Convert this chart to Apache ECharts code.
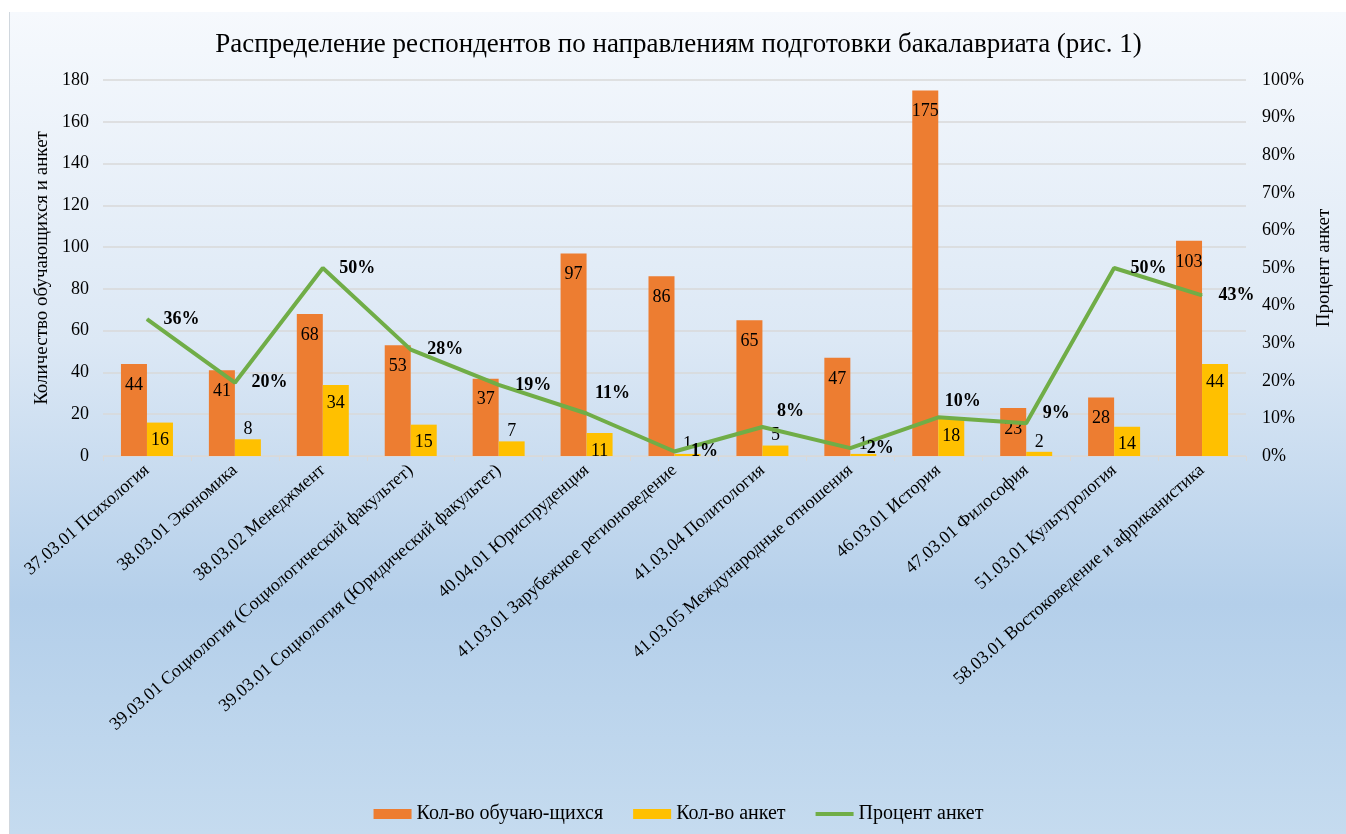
<!DOCTYPE html>
<html>
<head>
<meta charset="utf-8">
<script src="https://cdn.jsdelivr.net/npm/echarts@6/dist/echarts.min.js"></script>
<style>
html,body{margin:0;padding:0;background:#ffffff;}
#chart{position:absolute;left:9px;top:12px;width:1337px;height:822px;
background:linear-gradient(to bottom,#f6f9fd 0%,#dce8f5 40%,#b4cfea 72%,#c5dbef 100%);
border-left:1px solid #d0d7de;}
</style>
</head>
<body>
<div id="chart"></div>
<script>
var categories = [
  '37.03.01 Психология',
  '38.03.01 Экономика',
  '38.03.02 Менеджмент',
  '39.03.01 Социология (Социологический факультет)',
  '39.03.01 Социология (Юридический факультет)',
  '40.04.01 Юриспруденция',
  '41.03.01 Зарубежное регионоведение',
  '41.03.04 Политология',
  '41.03.05 Международные отношения',
  '46.03.01 История',
  '47.03.01 Философия',
  '51.03.01 Культурология',
  '58.03.01 Востоковедение и африканистика'
];
var students = [44, 41, 68, 53, 37, 97, 86, 65, 47, 175, 23, 28, 103];
var surveys = [16, 8, 34, 15, 7, 11, 1, 5, 1, 18, 2, 14, 44];
var percent = [0.364, 0.195, 0.5, 0.283, 0.189, 0.113, 0.012, 0.077, 0.021, 0.103, 0.087, 0.5, 0.427];
var leftTicks = {min: 0, max: 180, interval: 20};
var rightTicks = {min: 0, max: 1, interval: 0.1};

var FONT = '"Liberation Serif","Times New Roman",serif';
var chart = echarts.init(document.getElementById('chart'), null, {renderer: 'canvas'});

// label placement tweaks (layout only, keyed by category index)
var lineLabelShift = {5: [-8, -18], 7: [-2, -14], 9: [-10, -14], 10: [0, -8]};

var surveyData = surveys.map(function (v) {
  if (v < 10) {
    return {value: v, label: {position: 'top', distance: 1}};
  }
  return v;
});

chart.setOption({
  backgroundColor: 'transparent',
  textStyle: {fontFamily: FONT, color: '#000'},
  title: {
    text: 'Распределение респондентов по направлениям подготовки бакалавриата (рис. 1)',
    left: 'center',
    top: 14,
    textStyle: {fontFamily: FONT, fontSize: 27, fontWeight: 'normal', color: '#000'}
  },
  legend: {
    bottom: 5,
    left: 'center',
    itemGap: 30,
    itemWidth: 38,
    itemHeight: 10,
    textStyle: {fontFamily: FONT, fontSize: 20, color: '#000'},
    data: [
      {name: 'Кол-во обучаю-щихся', icon: 'rect'},
      {name: 'Кол-во анкет', icon: 'rect'},
      {name: 'Процент анкет', icon: 'path://M0,0 L40,0 L40,4 L0,4 Z'}
    ]
  },
  grid: {left: 93, right: 101, top: 68, bottom: 378, containLabel: false},
  xAxis: {
    type: 'category',
    data: categories,
    axisLine: {lineStyle: {color: '#d9d9d9', width: 1}},
    axisTick: {show: true, length: 5, lineStyle: {color: '#d9d9d9'}},
    axisLabel: {rotate: 41, fontFamily: FONT, fontSize: 18, color: '#000', interval: 0, margin: 12}
  },
  yAxis: [
    {
      type: 'value',
      min: leftTicks.min, max: leftTicks.max, interval: leftTicks.interval,
      name: 'Количество обучающихся и анкет',
      nameLocation: 'middle',
      nameRotate: 90,
      nameGap: 46,
      nameTextStyle: {fontFamily: FONT, fontSize: 19, color: '#000'},
      axisLine: {show: false},
      axisTick: {show: false},
      axisLabel: {fontFamily: FONT, fontSize: 18, color: '#000', margin: 14},
      splitLine: {lineStyle: {color: '#d9d9d9', width: 1.5}}
    },
    {
      type: 'value',
      min: rightTicks.min, max: rightTicks.max, interval: rightTicks.interval,
      name: 'Процент анкет',
      nameLocation: 'middle',
      nameRotate: 90,
      nameGap: 61,
      nameTextStyle: {fontFamily: FONT, fontSize: 19, color: '#000'},
      axisLine: {show: false},
      axisTick: {show: false},
      axisLabel: {
        fontFamily: FONT, fontSize: 18, color: '#000', margin: 16,
        formatter: function (v) { return Math.round(v * 100) + '%'; }
      },
      splitLine: {show: false}
    }
  ],
  series: [
    {
      name: 'Кол-во обучаю-щихся',
      type: 'bar',
      yAxisIndex: 0,
      data: students,
      barWidth: 26,
      barGap: '0%',
      itemStyle: {color: '#ed7d31'},
      label: {show: true, position: 'insideTop', distance: 12, fontFamily: FONT, fontSize: 18, color: '#000'}
    },
    {
      name: 'Кол-во анкет',
      type: 'bar',
      yAxisIndex: 0,
      data: surveyData,
      barWidth: 26,
      barGap: '0%',
      itemStyle: {color: '#ffc000'},
      label: {show: true, position: 'insideTop', distance: 9, fontFamily: FONT, fontSize: 18, color: '#000'}
    },
    {
      name: 'Процент анкет',
      type: 'line',
      yAxisIndex: 1,
      data: percent,
      symbol: 'circle',
      symbolSize: 1,
      showSymbol: true,
      lineStyle: {color: '#70ad47', width: 4},
      itemStyle: {color: '#70ad47'},
      label: {
        show: true, position: 'right', distance: 16, offset: [0, -2],
        fontFamily: FONT, fontSize: 18, fontWeight: 'bold', color: '#000',
        formatter: function (p) { return Math.round(p.value * 100) + '%'; }
      },
      labelLayout: function (params) {
        var s = lineLabelShift[params.dataIndex];
        if (s) {
          return {x: params.labelRect.x + s[0], y: params.labelRect.y + s[1], hideOverlap: false};
        }
        return {hideOverlap: false};
      },
      z: 5
    }
  ]
});
</script>
</body>
</html>
